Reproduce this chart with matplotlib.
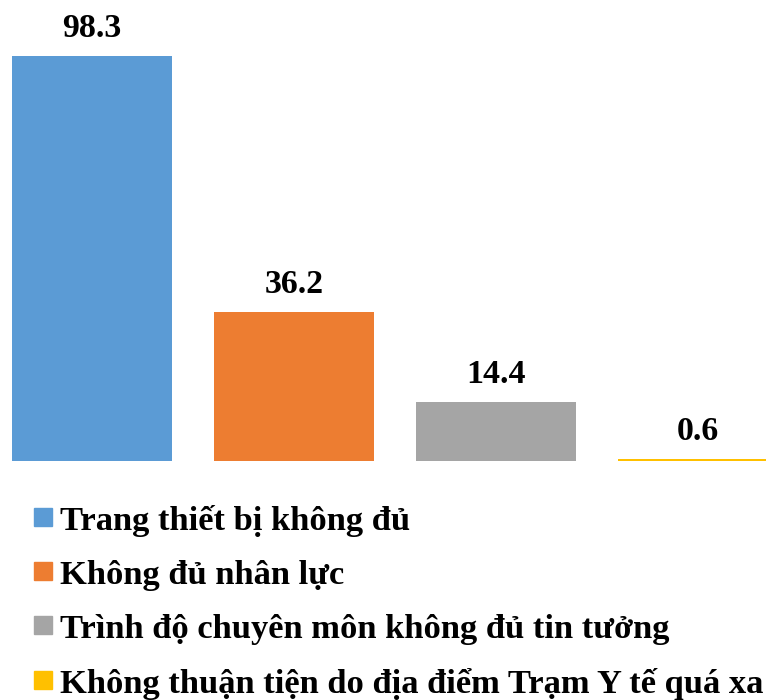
import matplotlib
matplotlib.use("Agg")
import matplotlib.pyplot as plt
from matplotlib.patches import Rectangle

categories = [
    "Trang thiết bị không đủ",
    "Không đủ nhân lực",
    "Trình độ chuyên môn không đủ tin tưởng",
    "Không thuận tiện do địa điểm Trạm Y tế quá xa",
]
values = [98.3, 36.2, 14.4, 0.6]
colors = ["#5B9BD5", "#ED7D31", "#A5A5A5", "#FFC000"]

W, H, DPI = 766, 700, 100
plt.rcParams["font.family"] = ["Liberation Serif", "DejaVu Serif"]
plt.rcParams["font.weight"] = "bold"

fig = plt.figure(figsize=(W / DPI, H / DPI), dpi=DPI)
base_px = 461
ax = fig.add_axes([0, (H - base_px) / H, 1, base_px / H])

step_px = 202.0
first_center = 92.0
ax.set_xlim(-first_center / step_px, (W - first_center) / step_px)
px_per_unit = 405.0 / 98.3
ax.set_ylim(0, base_px / px_per_unit)

xs = list(range(len(values)))
bars = ax.bar(xs, values, width=160 / step_px, color=colors)
for x, v in zip(xs, values):
    ax.annotate(f"{v:.1f}", (x, v), xytext=(0, 19 * 72 / DPI),
                textcoords="offset points", ha="center", va="baseline",
                fontsize=24.4, fontweight="bold", color="black")
ax.axis("off")

# legend drawn as a vertical list under the bars
row_base = [530, 584, 638, 693]
for cat, col, yb in zip(categories, colors, row_base):
    fig.patches.append(Rectangle((34 / W, 1 - (yb - 4) / H), 18 / W, 18 / H,
                                 transform=fig.transFigure, color=col))
    fig.text(60 / W, 1 - yb / H, cat, fontsize=24.8, fontweight="bold",
             va="baseline", ha="left", color="black")

fig.savefig("out.png", dpi=DPI)
